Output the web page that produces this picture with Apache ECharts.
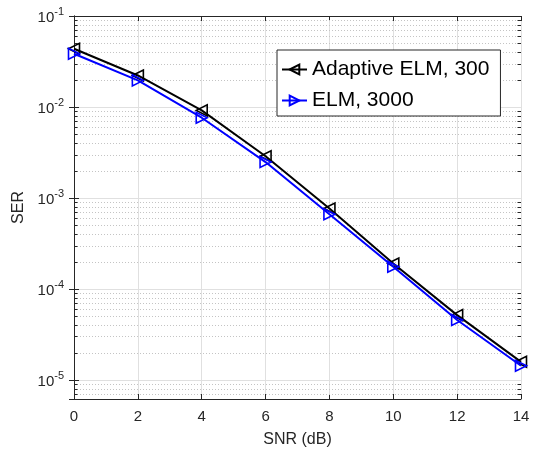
<!DOCTYPE html>
<html><head><meta charset="utf-8">
<script src="https://cdn.jsdelivr.net/npm/echarts@6/dist/echarts.min.js"></script>
<style>html,body{margin:0;padding:0;background:#fff}#c{width:540px;height:454px}</style>
</head><body><div id="c"></div>
<script>
var snr = [0, 2, 4, 6, 8, 10, 12, 14];
var serAdaptive = [0.0436, 0.0222, 0.00918, 0.00287, 7.64e-4, 1.9e-4, 5.15e-5, 1.58e-5];
var serELM = [0.0385, 0.0196, 0.00762, 0.00248, 6.62e-4, 1.75e-4, 4.55e-5, 1.43e-5];
var seriesNames = ['Adaptive ELM, 300', 'ELM, 3000'];
var yMin = Math.pow(10, -5.21), yMax = 0.1;
var xMin = 0, xMax = 14, xStep = 2;

var axisColor = '#262626';
var font = 'Liberation Sans, Arial, Helvetica, sans-serif';

// minor grid values 2..9 x 10^k
var minorVals = [];
for (var k = -6; k <= -2; k++) {
  for (var m = 2; m <= 9; m++) {
    var v = m * Math.pow(10, k);
    if (v > yMin && v < yMax) minorVals.push(v);
  }
}

function yFmt(value) {
  var l = Math.log10(value);
  var e = Math.round(l);
  if (Math.abs(l - e) > 1e-6) return '';
  return '{b|10}{s|' + e + '}';
}

function renderMinor(params, api) {
  var v = api.value(1);
  var p1 = api.coord([xMin, v]);
  var p2 = api.coord([xMax, v]);
  var y = Math.round(p1[1]) + 0.5;
  return {
    type: 'group',
    children: [{
      type: 'line', silent: true,
      shape: { x1: p1[0], y1: y, x2: p2[0], y2: y },
      style: { stroke: '#c4c4c4', lineWidth: 1, lineDash: [1, 2] }
    }, {
      type: 'line', silent: true,
      shape: { x1: p1[0], y1: y, x2: p1[0] + 3.5, y2: y },
      style: { stroke: axisColor, lineWidth: 1 }
    }, {
      type: 'line', silent: true,
      shape: { x1: p2[0] - 3.5, y1: y, x2: p2[0], y2: y },
      style: { stroke: axisColor, lineWidth: 1 }
    }]
  };
}

var chart = echarts.init(document.getElementById('c'));
chart.setOption({
  animation: false,
  backgroundColor: '#fff',
  textStyle: { fontFamily: font },
  grid: { left: 74, right: 19, top: 16, bottom: 55, containLabel: false },
  legend: {
    data: seriesNames,
    orient: 'vertical',
    left: 277, top: 50,
    padding: [9, 11, 5, 4],
    itemGap: 10,
    itemWidth: 25, itemHeight: 12,
    backgroundColor: '#fff',
    borderColor: axisColor, borderWidth: 1,
    textStyle: { fontSize: 21, color: '#000', fontFamily: font }
  },
  xAxis: [{
    type: 'value', min: xMin, max: xMax, interval: xStep,
    name: 'SNR (dB)', nameLocation: 'middle', nameGap: 33,
    nameTextStyle: { fontSize: 16, color: axisColor, fontFamily: font },
    axisLine: { lineStyle: { color: axisColor, width: 1 } },
    axisTick: { inside: true, length: 5, lineStyle: { color: axisColor } },
    axisLabel: { fontSize: 15, color: axisColor, margin: 10, fontFamily: font },
    splitLine: { show: true, lineStyle: { color: '#e0e0e0', width: 1 } }
  }, {
    type: 'value', position: 'top', min: xMin, max: xMax, interval: xStep,
    axisLine: { lineStyle: { color: axisColor, width: 1 } },
    axisTick: { inside: true, length: 5, lineStyle: { color: axisColor } },
    axisLabel: { show: false }, splitLine: { show: false }
  }],
  yAxis: [{
    type: 'log', logBase: 10, min: yMin, max: yMax,
    name: 'SER', nameLocation: 'middle', nameGap: 41, nameRotate: 90,
    nameTextStyle: { fontSize: 16, color: axisColor, fontFamily: font },
    axisLine: { show: true, lineStyle: { color: axisColor, width: 1 } },
    axisTick: { inside: true, length: 5, lineStyle: { color: axisColor } },
    axisLabel: {
      formatter: yFmt, margin: 10, color: axisColor, fontSize: 15,
      rich: {
        b: { fontSize: 15, color: axisColor, fontFamily: font, lineHeight: 19, verticalAlign: 'bottom' },
        s: { fontSize: 11, color: axisColor, fontFamily: font, lineHeight: 19, verticalAlign: 'top' }
      }
    },
    splitLine: { show: true, lineStyle: { color: '#e0e0e0', width: 1 } }
  }, {
    type: 'log', logBase: 10, min: yMin, max: yMax, position: 'right',
    axisLine: { show: true, lineStyle: { color: axisColor, width: 1 } },
    axisTick: { inside: true, length: 5, lineStyle: { color: axisColor } },
    axisLabel: { show: false }, splitLine: { show: false }
  }],
  series: [{
    name: 'minor-grid', type: 'custom', z: 1, silent: true,
    renderItem: renderMinor,
    encode: { x: 0, y: 1 },
    data: minorVals.map(function (v) { return [xMin, v]; })
  }, {
    name: seriesNames[0], type: 'line', z: 5,
    data: snr.map(function (x, i) { return [x, serAdaptive[i]]; }),
    symbol: 'triangle', symbolSize: 11, symbolRotate: 90,
    lineStyle: { color: '#000', width: 2 },
    itemStyle: { color: 'rgba(255,255,255,0)', borderColor: '#000', borderWidth: 1.6 },
    showSymbol: true
  }, {
    name: seriesNames[1], type: 'line', z: 6,
    data: snr.map(function (x, i) { return [x, serELM[i]]; }),
    symbol: 'triangle', symbolSize: 11, symbolRotate: -90,
    lineStyle: { color: '#0000ff', width: 2 },
    itemStyle: { color: 'rgba(255,255,255,0)', borderColor: '#0000ff', borderWidth: 1.6 },
    showSymbol: true
  }]
});
</script>
</body></html>
